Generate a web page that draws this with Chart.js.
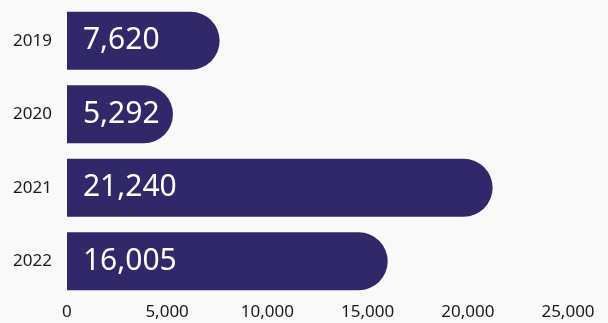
<!DOCTYPE html>
<html lang="en">
<head>
  <meta charset="UTF-8" />
  <title>Totals by year</title>
  <script src="https://cdn.jsdelivr.net/npm/chart.js"></script>
  <style>
    html, body {
      margin: 0;
      padding: 0;
      background: #faf9f9;
      overflow: hidden;
    }
    canvas {
      display: block;
    }
  </style>
</head>
<body>
  <canvas id="chart" width="608" height="323"></canvas>

  <script>
    // Data
    const years = ['2019', '2020', '2021', '2022'];
    const totals = [7620, 5292, 21240, 16005];
    const axisMax = 25000;
    const axisStep = 5000;

    const barColor = '#312869';
    const fontFamily = '"Noto Sans", "Open Sans", sans-serif';

    // Writes each value in white just inside the left end of its bar
    const valueLabels = {
      id: 'valueLabels',
      afterDatasetsDraw(chart) {
        const ctx = chart.ctx;
        const meta = chart.getDatasetMeta(0);
        ctx.save();
        ctx.fillStyle = '#ffffff';
        ctx.font = '30px ' + fontFamily;
        ctx.textAlign = 'left';
        ctx.textBaseline = 'middle';
        meta.data.forEach((bar, i) => {
          const text = totals[i].toLocaleString('en-US');
          ctx.fillText(text, bar.base + 16, bar.y);
        });
        ctx.restore();
      }
    };

    new Chart(document.getElementById('chart'), {
      type: 'bar',
      data: {
        labels: years,
        datasets: [{
          data: totals,
          backgroundColor: barColor,
          borderRadius: { topLeft: 0, bottomLeft: 0, topRight: 40, bottomRight: 40 },
          borderSkipped: 'start',
          barPercentage: 0.79,
          categoryPercentage: 1
        }]
      },
      options: {
        indexAxis: 'y',
        responsive: false,
        animation: false,
        locale: 'en-US',
        // x labels sit a little below the centre of their strip, hence the negative bottom
        layout: { padding: { top: 4, right: 40, bottom: -3.4, left: 13 } },
        plugins: {
          legend: { display: false },
          tooltip: { enabled: false }
        },
        scales: {
          x: {
            min: 0,
            max: axisMax,
            border: { display: false },
            grid: { display: false, drawTicks: false },
            ticks: {
              stepSize: axisStep,
              maxRotation: 0,
              color: '#1a1a1a',
              padding: 4,
              font: { family: fontFamily, size: 17 }
            }
          },
          y: {
            border: { display: false },
            // invisible tick marks make the gap between the years and the bars
            grid: {
              drawOnChartArea: false,
              drawTicks: true,
              tickLength: 15,
              color: 'transparent'
            },
            ticks: {
              autoSkip: false,
              color: '#1a1a1a',
              padding: 0,
              font: { family: fontFamily, size: 17, lineHeight: 0.4 }
            }
          }
        }
      },
      plugins: [valueLabels]
    });
  </script>
</body>
</html>
